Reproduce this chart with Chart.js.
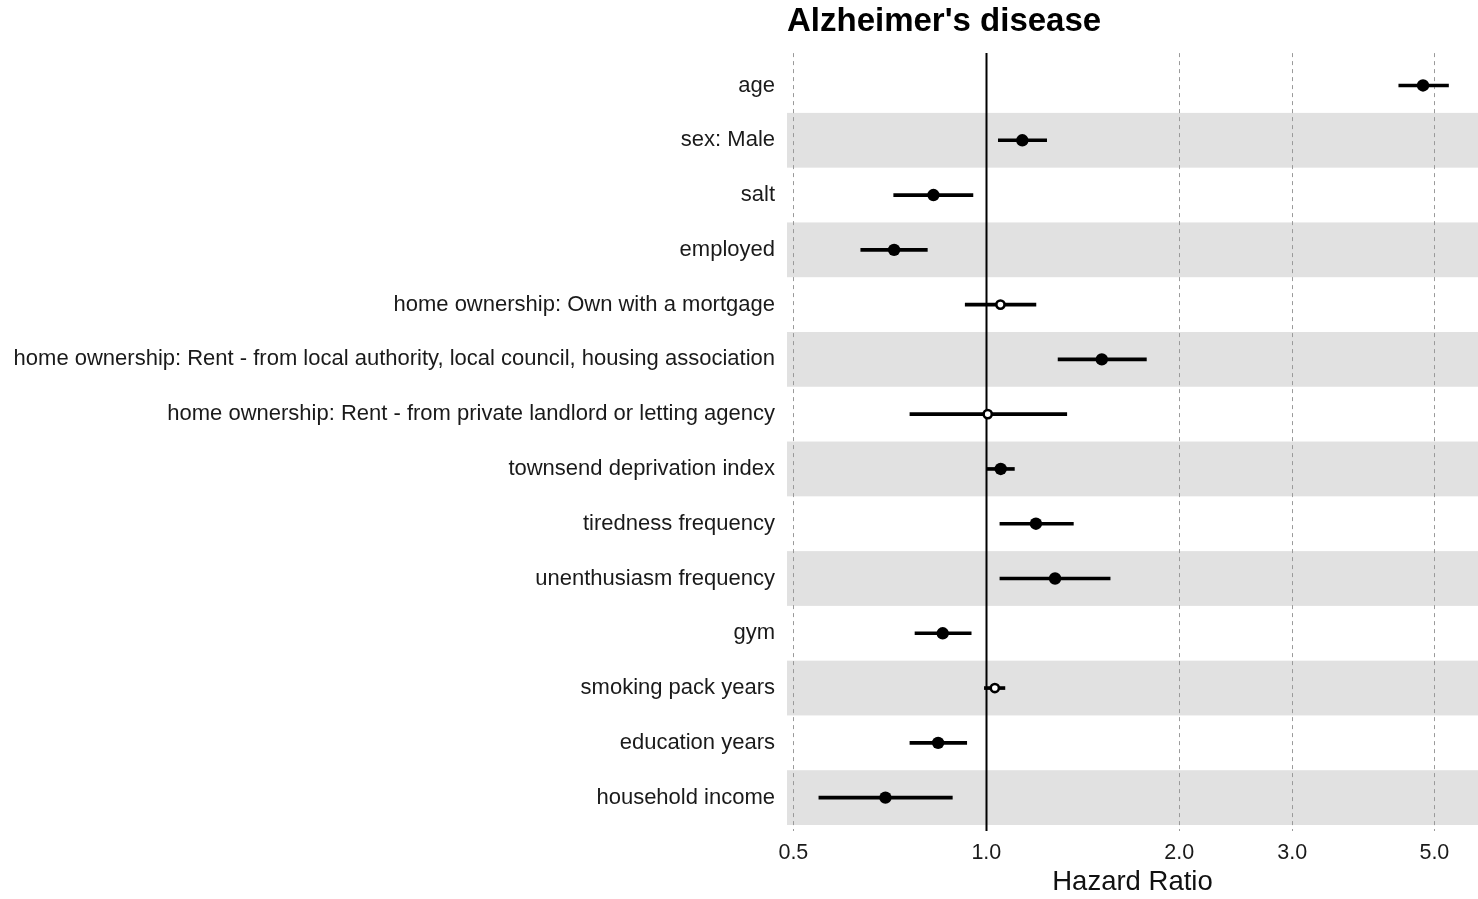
<!DOCTYPE html>
<html>
<head>
<meta charset="utf-8">
<script src="https://cdn.jsdelivr.net/npm/chart.js@4.4.1/dist/chart.umd.min.js"></script>
<style>
  html, body { margin: 0; padding: 0; background: #fff; }
  canvas { display: block; }
</style>
</head>
<body>
<canvas id="c" width="1478" height="899"></canvas>
<script>
const categories = [
  "age",
  "sex: Male",
  "salt",
  "employed",
  "home ownership: Own with a mortgage",
  "home ownership: Rent - from local authority, local council, housing association",
  "home ownership: Rent - from private landlord or letting agency",
  "townsend deprivation index",
  "tiredness frequency",
  "unenthusiasm frequency",
  "gym",
  "smoking pack years",
  "education years",
  "household income"
];
const hazardRatio = [4.80, 1.138, 0.827, 0.718, 1.052, 1.514, 1.005, 1.053, 1.195, 1.280, 0.855, 1.031, 0.841, 0.696];
const ciLower     = [4.40, 1.044, 0.717, 0.637, 0.927, 1.294, 0.760, 1.001, 1.050, 1.050, 0.774, 0.993, 0.760, 0.548];
const ciUpper     = [5.26, 1.242, 0.953, 0.809, 1.195, 1.777, 1.335, 1.106, 1.367, 1.560, 0.947, 1.069, 0.932, 0.885];
const significant = [true, true, true, true, false, true, false, true, true, true, true, false, true, true];
const tickValues = [0.5, 1.0, 2.0, 3.0, 5.0];
const xRange = [0.4887, 5.848];

Chart.defaults.font.family = "'Liberation Sans', Arial, Helvetica, sans-serif";

const decorPlugin = {
  id: 'decor',
  beforeDraw(chart) {
    const { ctx, chartArea, scales: { y } } = chart;
    const half = Math.abs(y.getPixelForValue(1) - y.getPixelForValue(0)) / 2;
    ctx.save();
    ctx.fillStyle = '#e1e1e1';
    categories.forEach((c, i) => {
      if (i % 2 === 1) {
        const py = y.getPixelForValue(i);
        ctx.fillRect(chartArea.left, py - half, chartArea.right - chartArea.left, 2 * half);
      }
    });
    ctx.restore();
  },
  beforeDatasetsDraw(chart) {
    const { ctx, chartArea, scales: { x } } = chart;
    ctx.save();
    tickValues.forEach(v => {
      const px = Math.round(x.getPixelForValue(v)) + 0.5;
      ctx.beginPath();
      if (v === 1) {
        ctx.setLineDash([]);
        ctx.strokeStyle = '#000';
        ctx.lineWidth = 2;
      } else {
        ctx.setLineDash([4, 4]);
        ctx.strokeStyle = '#9a9a9a';
        ctx.lineWidth = 1;
      }
      ctx.moveTo(px, chartArea.top - 5);
      ctx.lineTo(px, chartArea.bottom + 6);
      ctx.stroke();
    });
    ctx.restore();
  }
};

new Chart(document.getElementById('c'), {
  type: 'bar',
  data: {
    labels: categories,
    datasets: [
      {
        type: 'line',
        indexAxis: 'y',
        data: hazardRatio,
        showLine: false,
        order: 0,
        clip: false,
        pointRadius: significant.map(s => s ? 6.2 : 4.1),
        pointBorderWidth: significant.map(s => s ? 0 : 2.6),
        pointBackgroundColor: significant.map(s => s ? '#000' : '#fff'),
        pointBorderColor: '#000',
        pointHoverRadius: 6
      },
      {
        type: 'bar',
        indexAxis: 'y',
        data: categories.map((c, i) => [ciLower[i], ciUpper[i]]),
        backgroundColor: '#000',
        borderWidth: 0,
        barThickness: 3,
        order: 1
      }
    ]
  },
  options: {
    responsive: false,
    animation: false,
    indexAxis: 'y',
    layout: { autoPadding: false, padding: { left: 0, right: 0, top: 0, bottom: 0 } },
    plugins: {
      legend: { display: false },
      tooltip: { enabled: false },
      title: {
        display: true,
        text: "Alzheimer's disease",
        align: 'start',
        fullSize: false,
        color: '#000',
        font: { size: 33, weight: 'bold' },
        padding: { top: 2, bottom: 16.5 }
      }
    },
    scales: {
      x: {
        type: 'logarithmic',
        min: xRange[0],
        max: xRange[1],
        afterBuildTicks: s => { s.ticks = tickValues.map(v => ({ value: v })); },
        afterFit: s => { s.height = 74; s.paddingLeft = 0; s.paddingRight = 0; },
        grid: { display: false, drawTicks: false },
        border: { display: false },
        ticks: {
          autoSkip: false,
          maxRotation: 0,
          padding: 15,
          color: '#1a1a1a',
          font: { size: 21.5 },
          callback: v => Number(v).toFixed(1)
        },
        title: {
          display: true,
          text: 'Hazard Ratio',
          color: '#111',
          font: { size: 27.5 },
          padding: { top: 0, bottom: 0 }
        }
      },
      y: {
        type: 'category',
        offset: true,
        afterFit: s => { s.width = 787; },
        grid: { display: false, drawTicks: false },
        border: { display: false },
        ticks: {
          autoSkip: false,
          padding: 12,
          color: '#1a1a1a',
          font: { size: 22 }
        }
      }
    }
  },
  plugins: [decorPlugin]
});
</script>
</body>
</html>
